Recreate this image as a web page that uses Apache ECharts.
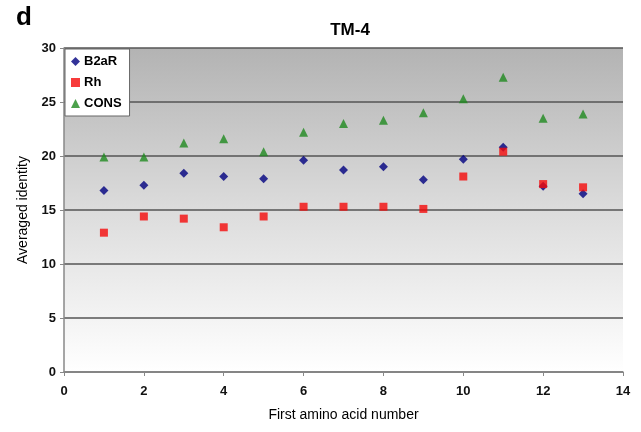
<!DOCTYPE html>
<html><head><meta charset="utf-8">
<script src="https://cdn.jsdelivr.net/npm/echarts@6/dist/echarts.min.js"></script>
<style>html,body{margin:0;padding:0;background:#fff}#c{width:641px;height:432px}</style>
</head><body><div id="c"></div>
<script>
const xValues = [1,2,3,4,5,6,7,8,9,10,11,12,13];
const b2aR = [16.8,17.3,18.4,18.1,17.9,19.6,18.7,19.0,17.8,19.7,20.8,17.2,16.5];
const rh   = [12.9,14.4,14.2,13.4,14.4,15.3,15.3,15.3,15.1,18.1,20.4,17.4,17.1];
const cons = [19.9,19.9,21.2,21.6,20.4,22.2,23.0,23.3,24.0,25.3,27.3,23.5,23.9];
const seriesNames = ['B2aR','Rh','CONS'];

const pair = arr => xValues.map((x,i)=>[x,arr[i]]);
const chart = echarts.init(document.getElementById('c'));
const font = 'Liberation Sans, Arial, sans-serif';
chart.setOption({
  animation:false,
  backgroundColor:'#fff',
  title:[
    {text:'TM-4',left:345,top:17,textAlign:'center',textStyle:{fontFamily:font,fontSize:17,fontWeight:'bold',color:'#000'}},
    {text:'d',left:11,top:0,textStyle:{fontFamily:font,fontSize:26,fontWeight:'bold',color:'#000'}}
  ],
  grid:{left:64,right:18,top:48,bottom:60,show:true,borderWidth:0,
    backgroundColor:new echarts.graphic.LinearGradient(0,0,0,1,[{offset:0,color:'#b3b3b3'},{offset:0.5,color:'#dcdcdc'},{offset:1,color:'#ffffff'}])},
  legend:{
    data:[{name:'B2aR',icon:'diamond'},{name:'Rh',icon:'rect'},{name:'CONS',icon:'triangle'}],
    orient:'vertical',left:65,top:49,itemWidth:9,itemHeight:9,itemGap:8,
    backgroundColor:'#fff',borderColor:'#666',borderWidth:1,padding:[6,8,6,6],
    textStyle:{fontFamily:font,fontSize:13,fontWeight:'bold',color:'#000',padding:[0,0,0,-1]}
  },
  xAxis:{type:'value',min:0,max:14,interval:2,
    name:'First amino acid number',nameLocation:'middle',nameGap:36,
    nameTextStyle:{fontFamily:font,fontSize:14,color:'#000'},
    axisLine:{lineStyle:{color:'#888',width:1.5}},
    axisTick:{show:true,length:4,lineStyle:{color:'#888'}},
    axisLabel:{fontFamily:font,fontSize:13,fontWeight:'bold',color:'#111',margin:13},
    splitLine:{show:false}},
  yAxis:{type:'value',min:0,max:30,interval:5,
    name:'Averaged identity',nameLocation:'middle',nameGap:34,
    nameTextStyle:{fontFamily:font,fontSize:14,color:'#000'},
    axisLine:{show:true,lineStyle:{color:'#888',width:1.5}},
    axisTick:{show:true,length:4,lineStyle:{color:'#888'}},
    axisLabel:{fontFamily:font,fontSize:13,fontWeight:'bold',color:'#111',margin:8},
    splitLine:{show:true,lineStyle:{color:'#555',width:1.5}}},
  series:[
    {name:'B2aR',type:'scatter',symbol:'diamond',symbolSize:9,itemStyle:{color:'#000080'},data:pair(b2aR)},
    {name:'Rh',type:'scatter',symbol:'rect',symbolSize:8,itemStyle:{color:'#f50a0a'},data:pair(rh)},
    {name:'CONS',type:'scatter',symbol:'triangle',symbolSize:9,itemStyle:{color:'#1f8a1f'},data:pair(cons)}
  ]
});
</script></body></html>
